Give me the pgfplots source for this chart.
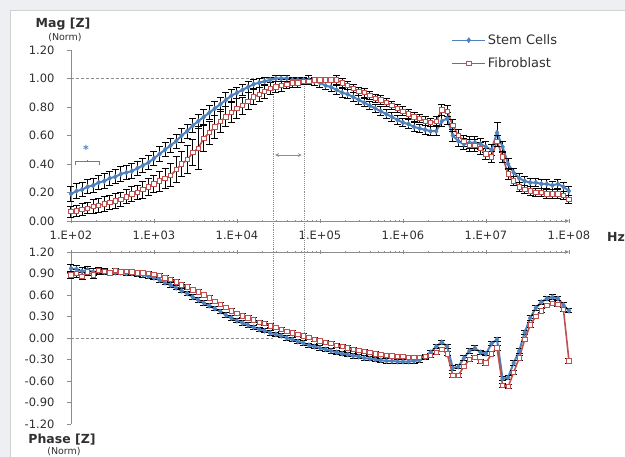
\documentclass[border=0pt]{standalone}
\usepackage{pgfplots}
\pgfplotsset{compat=1.18}
\usepackage{pgfplotstable}
\usepackage{fontspec}
\setmainfont{DejaVu Sans}
\definecolor{sblue}{HTML}{4F81BD}
\definecolor{fred}{HTML}{C0504D}
\definecolor{axgray}{HTML}{8C8C8C}
\definecolor{bggray}{HTML}{EDEFF2}
\definecolor{txt}{HTML}{303030}

% e = log10(frequency / Hz)
\pgfplotstableread{
e S Se F Fe
2.000 0.19 0.05 0.065 0.04
2.067 0.21 0.05 0.07 0.04
2.133 0.22 0.05 0.08 0.04
2.200 0.24 0.05 0.09 0.04
2.267 0.25 0.05 0.10 0.05
2.333 0.27 0.05 0.11 0.05
2.400 0.28 0.05 0.12 0.05
2.467 0.30 0.05 0.13 0.05
2.533 0.31 0.05 0.14 0.05
2.600 0.33 0.05 0.15 0.05
2.667 0.34 0.05 0.17 0.05
2.733 0.35 0.05 0.19 0.05
2.800 0.37 0.05 0.20 0.05
2.867 0.39 0.05 0.22 0.06
2.933 0.41 0.05 0.24 0.06
3.000 0.44 0.05 0.26 0.06
3.067 0.47 0.05 0.28 0.07
3.133 0.50 0.05 0.30 0.07
3.200 0.53 0.05 0.32 0.08
3.267 0.56 0.05 0.36 0.09
3.333 0.60 0.05 0.40 0.09
3.400 0.63 0.05 0.43 0.10
3.467 0.67 0.05 0.48 0.09
3.533 0.70 0.05 0.51 0.15
3.600 0.73 0.05 0.58 0.09
3.667 0.76 0.05 0.62 0.08
3.733 0.79 0.05 0.66 0.08
3.800 0.82 0.05 0.70 0.08
3.867 0.85 0.05 0.73 0.07
3.933 0.88 0.04 0.76 0.07
4.000 0.90 0.04 0.79 0.07
4.067 0.92 0.04 0.81 0.06
4.133 0.94 0.04 0.84 0.06
4.200 0.96 0.03 0.87 0.05
4.267 0.97 0.03 0.89 0.05
4.333 0.98 0.03 0.91 0.05
4.400 0.99 0.02 0.93 0.04
4.467 1.00 0.02 0.94 0.04
4.533 1.00 0.02 0.95 0.04
4.600 1.00 0.02 0.96 0.03
4.667 0.99 0.02 0.97 0.03
4.733 0.99 0.02 0.97 0.03
4.800 0.99 0.02 0.98 0.02
4.867 0.99 0.03 0.98 0.02
4.933 0.98 0.03 0.99 0.02
5.000 0.97 0.03 0.99 0.02
5.067 0.95 0.03 0.99 0.02
5.133 0.94 0.03 0.99 0.02
5.200 0.92 0.03 0.99 0.03
5.267 0.90 0.03 0.97 0.03
5.333 0.89 0.03 0.95 0.03
5.400 0.87 0.03 0.93 0.03
5.467 0.85 0.03 0.91 0.03
5.533 0.83 0.03 0.90 0.03
5.600 0.81 0.03 0.88 0.03
5.667 0.79 0.03 0.86 0.03
5.733 0.77 0.03 0.85 0.03
5.800 0.75 0.03 0.83 0.03
5.867 0.73 0.03 0.81 0.03
5.933 0.71 0.03 0.79 0.03
6.000 0.69 0.03 0.77 0.03
6.067 0.68 0.03 0.75 0.03
6.133 0.66 0.03 0.73 0.03
6.200 0.65 0.03 0.72 0.03
6.267 0.64 0.03 0.70 0.03
6.333 0.63 0.03 0.69 0.03
6.400 0.63 0.03 0.70 0.03
6.467 0.70 0.04 0.78 0.04
6.533 0.72 0.04 0.77 0.04
6.600 0.60 0.04 0.67 0.04
6.667 0.56 0.04 0.60 0.04
6.733 0.54 0.04 0.56 0.04
6.800 0.55 0.04 0.53 0.04
6.867 0.55 0.04 0.53 0.04
6.933 0.54 0.04 0.51 0.04
7.000 0.52 0.04 0.47 0.04
7.067 0.50 0.04 0.45 0.04
7.133 0.62 0.07 0.56 0.04
7.200 0.52 0.04 0.45 0.04
7.267 0.40 0.04 0.33 0.04
7.333 0.34 0.03 0.28 0.03
7.400 0.30 0.03 0.24 0.03
7.467 0.28 0.03 0.22 0.03
7.533 0.27 0.03 0.21 0.03
7.600 0.27 0.03 0.20 0.03
7.667 0.26 0.03 0.20 0.03
7.733 0.26 0.03 0.19 0.03
7.800 0.25 0.03 0.19 0.03
7.867 0.26 0.03 0.19 0.03
7.933 0.24 0.03 0.18 0.03
8.000 0.21 0.03 0.15 0.03
}\magtable

\pgfplotstableread{
e S Se F Fe
2.000 0.97 0.05 0.88 0.05
2.067 0.96 0.05 0.90 0.05
2.133 0.93 0.05 0.86 0.05
2.200 0.95 0.05 0.92 0.05
2.267 0.92 0.05 0.88 0.05
2.333 0.93 0.04 0.94 0.04
2.400 0.92 0.04 0.93 0.04
2.467 0.91 0.03 0.91 0.03
2.533 0.91 0.03 0.94 0.03
2.600 0.91 0.03 0.92 0.03
2.667 0.90 0.03 0.93 0.03
2.733 0.90 0.03 0.92 0.03
2.800 0.89 0.03 0.91 0.03
2.867 0.88 0.03 0.91 0.03
2.933 0.86 0.03 0.90 0.03
3.000 0.84 0.03 0.89 0.03
3.067 0.81 0.03 0.87 0.03
3.133 0.77 0.03 0.84 0.03
3.200 0.74 0.03 0.82 0.03
3.267 0.70 0.03 0.78 0.03
3.333 0.66 0.03 0.74 0.03
3.400 0.62 0.03 0.71 0.03
3.467 0.57 0.03 0.67 0.03
3.533 0.53 0.03 0.64 0.03
3.600 0.49 0.03 0.60 0.03
3.667 0.45 0.03 0.56 0.03
3.733 0.41 0.03 0.51 0.03
3.800 0.37 0.03 0.47 0.03
3.867 0.32 0.03 0.43 0.03
3.933 0.28 0.03 0.38 0.03
4.000 0.24 0.03 0.34 0.03
4.067 0.21 0.03 0.31 0.03
4.133 0.18 0.03 0.28 0.03
4.200 0.15 0.03 0.25 0.03
4.267 0.12 0.03 0.22 0.03
4.333 0.10 0.03 0.20 0.03
4.400 0.07 0.03 0.17 0.03
4.467 0.05 0.03 0.15 0.03
4.533 0.03 0.03 0.12 0.03
4.600 0.00 0.03 0.09 0.03
4.667 -0.02 0.03 0.07 0.03
4.733 -0.05 0.03 0.05 0.03
4.800 -0.07 0.03 0.03 0.03
4.867 -0.10 0.03 0.01 0.03
4.933 -0.12 0.03 -0.02 0.03
5.000 -0.14 0.03 -0.04 0.03
5.067 -0.16 0.03 -0.06 0.03
5.133 -0.18 0.03 -0.08 0.03
5.200 -0.20 0.03 -0.10 0.03
5.267 -0.22 0.03 -0.12 0.03
5.333 -0.23 0.03 -0.14 0.03
5.400 -0.25 0.03 -0.16 0.03
5.467 -0.26 0.03 -0.17 0.03
5.533 -0.28 0.03 -0.19 0.03
5.600 -0.29 0.03 -0.20 0.03
5.667 -0.30 0.03 -0.22 0.03
5.733 -0.31 0.03 -0.23 0.03
5.800 -0.32 0.03 -0.24 0.03
5.867 -0.32 0.03 -0.25 0.03
5.933 -0.33 0.03 -0.26 0.03
6.000 -0.33 0.03 -0.26 0.03
6.067 -0.33 0.03 -0.27 0.03
6.133 -0.32 0.03 -0.27 0.03
6.200 -0.31 0.03 -0.27 0.03
6.267 -0.27 0.03 -0.26 0.03
6.333 -0.20 0.03 -0.24 0.03
6.400 -0.12 0.03 -0.20 0.03
6.467 -0.06 0.03 -0.16 0.03
6.533 -0.12 0.03 -0.22 0.03
6.600 -0.42 0.03 -0.52 0.03
6.667 -0.40 0.03 -0.52 0.03
6.733 -0.28 0.03 -0.40 0.03
6.800 -0.18 0.03 -0.30 0.03
6.867 -0.14 0.03 -0.27 0.03
6.933 -0.20 0.03 -0.33 0.03
7.000 -0.22 0.03 -0.35 0.03
7.067 -0.08 0.03 -0.22 0.03
7.133 -0.02 0.03 -0.14 0.03
7.200 -0.57 0.03 -0.66 0.03
7.267 -0.55 0.03 -0.68 0.03
7.333 -0.35 0.03 -0.48 0.03
7.400 -0.18 0.03 -0.28 0.03
7.467 0.08 0.03 -0.02 0.03
7.533 0.28 0.03 0.18 0.03
7.600 0.42 0.03 0.30 0.03
7.667 0.50 0.03 0.38 0.03
7.733 0.55 0.03 0.45 0.03
7.800 0.57 0.03 0.48 0.03
7.867 0.55 0.03 0.47 0.03
7.933 0.46 0.03 0.40 0.03
8.000 0.38 0.03 -0.32 0.03
}\phtable

\pgfplotsset{
  chartbase/.style={
    scale only axis, width=498pt,
    xmin=2, xmax=8,
    axis y line=left,
    axis line style={axgray, line width=0.8pt, -},
    tick style={axgray, line width=0.6pt},
    major tick length=4pt, minor tick length=2.5pt,
    ytick align=outside, xtick align=inside,
    xtick={2,3,4,5,6,7,8},
    minor xtick={2.301,2.477,2.602,2.699,2.778,2.845,2.903,2.954,
                 3.301,3.477,3.602,3.699,3.778,3.845,3.903,3.954,
                 4.301,4.477,4.602,4.699,4.778,4.845,4.903,4.954,
                 5.301,5.477,5.602,5.699,5.778,5.845,5.903,5.954,
                 6.301,6.477,6.602,6.699,6.778,6.845,6.903,6.954,
                 7.301,7.477,7.602,7.699,7.778,7.845,7.903,7.954},
    ticklabel style={font=\fontsize{11.5}{13}\selectfont, text=txt},
    yticklabel style={xshift=-9pt, /pgf/number format/.cd, fixed, fixed zerofill, precision=2, assume math mode=true},
    xticklabel style={yshift=-4pt},
    clip=false,
  },
  sline/.style={sblue, line width=2pt, mark=diamond*, mark size=2.6pt, mark options={sblue, line width=0.4pt}},
  fline/.style={fred, line width=1.6pt, mark=square*, mark size=2.2pt, mark options={fill=white, draw=fred, line width=0.9pt}},
  ebars/.style={error bars/.cd, y dir=both, y explicit,
    error bar style={black, line width=1pt},
    error mark options={rotate=90, black, mark size=3.5pt, line width=1pt}},
}

\begin{document}
\begin{tikzpicture}[x=1pt, y=1pt]
\useasboundingbox (0,0) rectangle (625,457);
\fill[bggray] (0,0) rectangle (625,457);
\fill[white] (10,0) rectangle (625,447);
\draw[gray!35] (10,0) -- (10,447) -- (625,447);

% ---------------- magnitude ----------------
\begin{axis}[chartbase,
  at={(71pt,236pt)}, anchor=south west, height=171pt,
  ymin=0, ymax=1.2,
  axis x line=bottom,
  xticklabels={1.E+02,1.E+03,1.E+04,1.E+05,1.E+06,1.E+07,1.E+08},
  ytick={0,0.2,0.4,0.6,0.8,1.0,1.2},
  legend style={at={(0.758,1.115)}, anchor=north west, draw=none, fill=none,
    font=\fontsize{13}{15}\selectfont, text=txt, row sep=8pt},
  legend cell align=left,
  legend image code/.code={
    \draw[#1, mark=none, line width=1.2pt] (0pt,0pt) -- (33pt,0pt);
    \draw[#1, only marks] plot coordinates {(16.5pt,0pt)};
  },
]
\draw[axgray, densely dashed, line width=0.7pt] (axis cs:2,1) -- (axis cs:5.0,1);
\draw[axgray, densely dotted, line width=0.9pt] (axis cs:4.434,0.92) -- (axis cs:4.434,-0.215);
\draw[axgray, densely dotted, line width=0.9pt] (axis cs:4.807,0.96) -- (axis cs:4.807,-0.215);
\draw[axgray, <->, >=stealth, line width=0.7pt] (axis cs:4.46,0.463) -- (axis cs:4.78,0.463);
\node[sblue, font=\bfseries\fontsize{11}{12}\selectfont] at (axis cs:2.18,0.50) {*};
\draw[sblue, line width=1pt] (axis cs:2.06,0.395) -- (axis cs:2.06,0.414) -- (axis cs:2.34,0.414) -- (axis cs:2.34,0.395);
\draw[sblue, line width=1pt] (axis cs:2.20,0.414) -- (axis cs:2.20,0.43);

\addplot[sline, ebars] table[x=e, y=S, y error=Se] {\magtable};
\addlegendentry{Stem Cells}
\addplot[fline, ebars] table[x=e, y=F, y error=Fe] {\magtable};
\addlegendentry{Fibroblast}
\end{axis}

% ---------------- phase ----------------
\begin{axis}[chartbase,
  at={(71pt,33pt)}, anchor=south west, height=172pt,
  ymin=-1.2, ymax=1.2,
  axis x line=top,
  xticklabels={},
  ytick={-1.2,-0.9,-0.6,-0.3,0,0.3,0.6,0.9,1.2},
]
\draw[axgray, densely dashed, line width=0.7pt] (axis cs:2,0) -- (axis cs:4.434,0);
\draw[axgray, densely dotted, line width=0.9pt] (axis cs:4.434,1.2) -- (axis cs:4.434,0.02);
\draw[axgray, densely dotted, line width=0.9pt] (axis cs:4.807,1.2) -- (axis cs:4.807,0.08);
\addplot[sline, ebars] table[x=e, y=S, y error=Se] {\phtable};
\addplot[fline, ebars] table[x=e, y=F, y error=Fe] {\phtable};
\end{axis}

% titles
\node[font=\bfseries\fontsize{12.5}{14}\selectfont, text=txt] at (63,433) {Mag [Z]};
\node[font=\fontsize{9.5}{11}\selectfont, text=txt] at (65,419) {(Norm)};
\node[font=\bfseries\fontsize{12.5}{14}\selectfont, text=txt] at (62,17) {Phase [Z]};
\node[font=\fontsize{9.5}{11}\selectfont, text=txt] at (64,5.5) {(Norm)};
\node[font=\bfseries\fontsize{12.5}{14}\selectfont, text=txt] at (616,220) {Hz};
\end{tikzpicture}
\end{document}
